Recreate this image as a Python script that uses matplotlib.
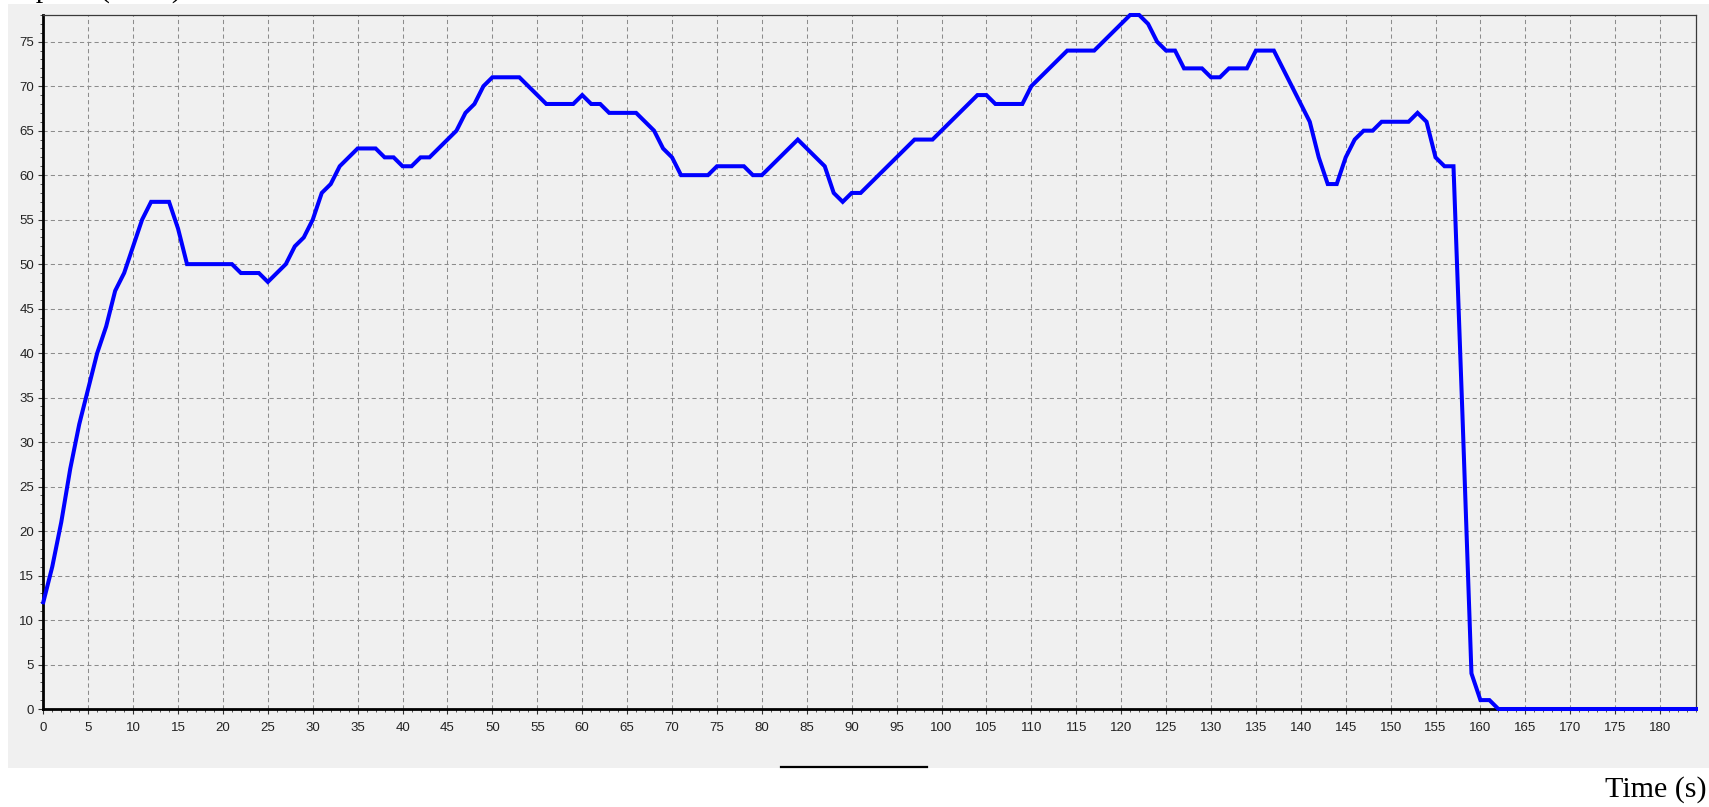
import matplotlib
matplotlib.use("Agg")
import matplotlib.pyplot as plt
from matplotlib.patches import Rectangle
from matplotlib.lines import Line2D
from matplotlib.ticker import MultipleLocator

# ---- data ----
time_s = list(range(0, 185))
speed_kmh = [
    12, 16, 21, 27, 32, 36, 40, 43, 47, 49,      # 0-9
    52, 55, 57, 57, 57, 54, 50, 50, 50, 50,      # 10-19
    50, 50, 49, 49, 49, 48, 49, 50, 52, 53,      # 20-29
    55, 58, 59, 61, 62, 63, 63, 63, 62, 62,      # 30-39
    61, 61, 62, 62, 63, 64, 65, 67, 68, 70,      # 40-49
    71, 71, 71, 71, 70, 69, 68, 68, 68, 68,      # 50-59
    69, 68, 68, 67, 67, 67, 67, 66, 65, 63,      # 60-69
    62, 60, 60, 60, 60, 61, 61, 61, 61, 60,      # 70-79
    60, 61, 62, 63, 64, 63, 62, 61, 58, 57,      # 80-89
    58, 58, 59, 60, 61, 62, 63, 64, 64, 64,      # 90-99
    65, 66, 67, 68, 69, 69, 68, 68, 68, 68,      # 100-109
    70, 71, 72, 73, 74, 74, 74, 74, 75, 76,      # 110-119
    77, 78, 78, 77, 75, 74, 74, 72, 72, 72,      # 120-129
    71, 71, 72, 72, 72, 74, 74, 74, 72, 70,      # 130-139
    68, 66, 62, 59, 59, 62, 64, 65, 65, 66,      # 140-149
    66, 66, 66, 67, 66, 62, 61, 61, 33, 4,       # 150-159
    1, 1, 0, 0, 0, 0, 0, 0, 0, 0,                # 160-169
    0, 0, 0, 0, 0, 0, 0, 0, 0, 0,                # 170-179
    0, 0, 0, 0, 0,                               # 180-184
]
x_label = "Time (s)"
y_label = "Speed (km/h)"

# ---- figure ----
W, H = 1709, 807
fig = plt.figure(figsize=(W / 100, H / 100), dpi=100)
fig.patch.set_facecolor("white")

panel = Rectangle((8 / W, 1 - 768 / H), (W - 8) / W, (768 - 4) / H,
                  transform=fig.transFigure, facecolor="#F0F0F0",
                  edgecolor="none", zorder=-1)
fig.add_artist(panel)

ax = fig.add_axes([43.3 / W, 1 - 709 / H, (1696 - 43.3) / W, (709 - 15) / H])
ax.set_facecolor("#F0F0F0")

ax.plot(time_s, speed_kmh, color="#0000FF", lw=2.9, solid_joinstyle="miter",
        zorder=3, clip_on=False)

ax.set_xlim(0, 184)
ax.set_ylim(0, 78)
ax.xaxis.set_major_locator(MultipleLocator(5))
ax.xaxis.set_minor_locator(MultipleLocator(1))
ax.yaxis.set_major_locator(MultipleLocator(5))
ax.yaxis.set_minor_locator(MultipleLocator(1))

ax.grid(True, which="major", color="#8C8C8C", lw=0.75, linestyle=(0, (4, 3)))
ax.set_axisbelow(True)

for side in ("left", "bottom"):
    ax.spines[side].set_linewidth(2.0)
    ax.spines[side].set_color("black")
for side in ("top", "right"):
    ax.spines[side].set_linewidth(0.9)
    ax.spines[side].set_color("#3A3A3A")

ax.tick_params(axis="both", which="major", direction="out", length=3.6,
               width=0.8, color="#333333", labelsize=9.5, labelcolor="#222222")
ax.tick_params(axis="both", which="minor", direction="out", length=2.0,
               width=0.7, color="#555555")
ax.tick_params(axis="x", which="major", pad=6.0)
ax.tick_params(axis="y", which="major", pad=3.0)
for lab in ax.get_xticklabels() + ax.get_yticklabels():
    lab.set_fontfamily("Liberation Sans")

# short black line under the panel
fig.add_artist(Line2D([781 / W, 927 / W], [1 - 767 / H, 1 - 767 / H],
                      transform=fig.transFigure, color="black", lw=1.6))

fig.text(1707 / W, 1 - 797 / H, x_label, ha="right", va="baseline",
         fontsize=21.6, family="Liberation Serif", color="black")
# the reference shows this label clipped at the top edge (only descenders visible)
fig.text(19 / W, 1 + 3 / H, y_label, ha="left", va="baseline",
         fontsize=21.6, family="Liberation Serif", color="black")

fig.savefig("out.png", dpi=100)
